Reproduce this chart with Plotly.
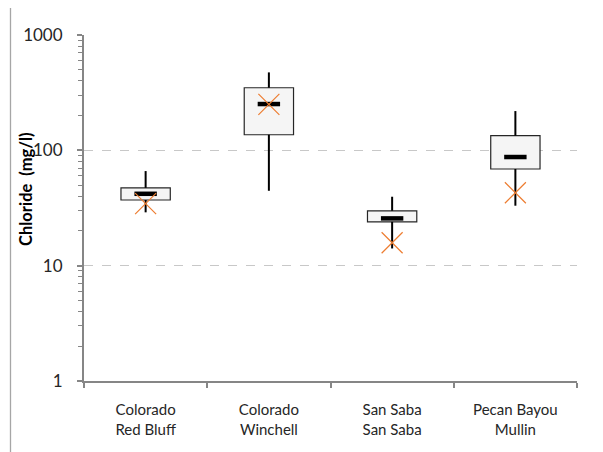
import plotly.graph_objects as go

categories = ["Colorado<br>Red Bluff", "Colorado<br>Winchell", "San Saba<br>San Saba", "Pecan Bayou<br>Mullin"]
whisker_low = [29.0, 44.6, 14.1, 33.1]
q1 = [37.1, 136.5, 24.0, 68.9]
median = [42.0, 252, 25.7, 87.5]
q3 = [47.3, 349, 29.9, 134]
whisker_high = [66.1, 474, 39.6, 219]
mean = [34.5, 250, 15.8, 42.9]
y_ticks = [1, 10, 100, 1000]

fig = go.Figure()

# whiskers (drawn as segments outside the boxes)
wx, wy = [], []
for c, lo, a, b, hi in zip(categories, whisker_low, q1, q3, whisker_high):
    wx += [c, c, None, c, c, None]
    wy += [lo, a, None, b, hi, None]
fig.add_trace(go.Scatter(x=wx, y=wy, mode="lines", line=dict(color="black", width=2),
                         hoverinfo="skip", showlegend=False))

# boxes
fig.add_trace(go.Bar(x=categories, base=q1, y=[b - a for a, b in zip(q1, q3)], width=0.4,
                     marker=dict(color="#f5f5f5", line=dict(color="#262626", width=1.2)),
                     hoverinfo="skip", showlegend=False))

# median bars
fig.add_trace(go.Scatter(x=categories, y=median, mode="markers",
                         marker=dict(symbol="line-ew", size=16, line=dict(color="black", width=4.5)),
                         hoverinfo="skip", showlegend=False))

# means
fig.add_trace(go.Scatter(x=categories, y=mean, mode="markers",
                         marker=dict(symbol="x-thin", size=21, color="#ED7D31",
                                     line=dict(color="#ED7D31", width=1.2)),
                         hoverinfo="skip", showlegend=False))

fig.update_layout(
    width=595, height=444,
    margin=dict(l=76, r=26, t=27, b=71),
    paper_bgcolor="white", plot_bgcolor="white",
    font=dict(family="Lato, Carlito, sans-serif", color="black"),
    bargap=0.6,
    shapes=[dict(type="rect", xref="paper", yref="paper",
                 x0=(10.5 - 84) / 493, x1=1.3, y0=-0.4, y1=(381 - 6.5) / 346,
                 line=dict(color="#a6a6a6", width=1.3), fillcolor="rgba(0,0,0,0)", layer="below")],
    annotations=[dict(text="<b>Chloride  (mg/l)</b>", textangle=-90, xref="paper", yref="paper",
                      x=(26 - 84) / 493, y=(381 - 189) / 346, xanchor="center", yanchor="middle",
                      showarrow=False,
                      font=dict(size=16.5, family="Lato, sans-serif", color="black"))],
)

fig.update_xaxes(
    type="category", showline=True, linecolor="#868686", linewidth=2,
    ticks="outside", tickson="boundaries", ticklen=5, tickcolor="#868686", tickwidth=1.5,
    tickfont=dict(size=15, color="#262626"), ticklabelstandoff=14,
    showgrid=False, zeroline=False,
    range=[-0.5, 3.5],
)

fig.update_yaxes(
    type="log", range=[0, 3], showline=True, linecolor="#868686", linewidth=2,
    tickvals=y_ticks, ticktext=[str(v) for v in y_ticks],
    ticks="outside", ticklen=5, tickcolor="#868686", tickwidth=1.5,
    tickfont=dict(size=17, color="#262626"), ticklabelstandoff=11,
    showgrid=True, gridcolor="#c8c8c8", griddash="dash", gridwidth=1.2,
    minor=dict(ticks="outside", ticklen=4, tickcolor="#868686", tickwidth=1.2, dtick="D1", showgrid=False),
    zeroline=False,
)

fig.write_html("out.html")
